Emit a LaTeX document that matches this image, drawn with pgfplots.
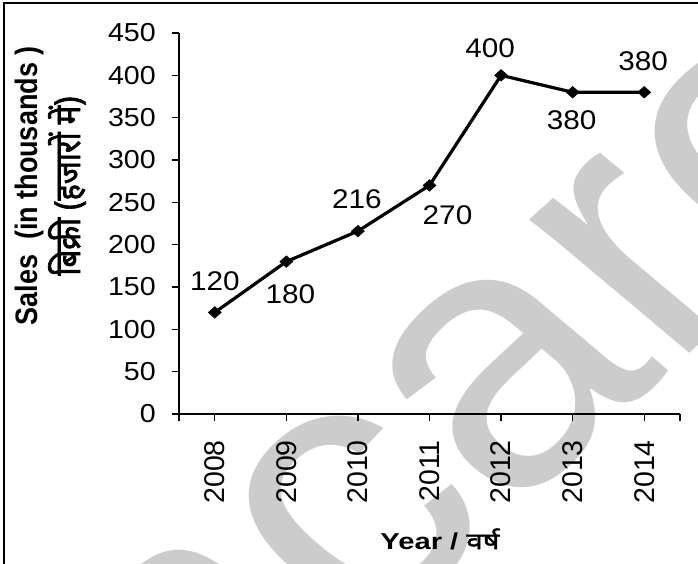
\documentclass[border=0pt]{standalone}
\usepackage{fontspec}
\setmainfont{Liberation Sans}
\newfontfamily\rfont{Liberation Sans}
\newfontfamily\hfont{Liberation Sans}[FakeStretch=1.1]
\newfontfamily\xfont{Liberation Sans}[FakeStretch=1.27]
\newfontfamily\hinB{Noto Sans}[Script=Devanagari,FakeBold=2]
\newfontfamily\hinBS{Noto Sans}[Script=Devanagari,FakeBold=2,FakeStretch=1.27]
\usepackage{graphicx}
\usepackage{pgfplots}
\usepackage{pgfplotstable}
\pgfplotsset{compat=1.18}

\pgfplotstableread{
x y dx dy
0 120 0 31
1 180 4 -33
2 216 -1 32
3 270 18 -30
4 400 -11 27
5 380 -1 -28
6 380 -1 31
}\sales

\begin{document}
\begin{tikzpicture}
% watermark
\begin{scope}
\clip (-179pt,-150pt) rectangle (519pt,414pt);
\begin{scope}[xscale=1.15]
\node[rotate=46, transform shape, inner sep=0pt, text=black!20,
  font=\rfont\fontsize{365}{365}\selectfont] at (336pt,88pt) {\llap{exam}care};
\end{scope}
\end{scope}
\begin{axis}[
  at={(0,0)}, anchor=south west,
  scale only axis, width=501pt, height=381pt,
  xmin=-0.5, xmax=6.5, ymin=0, ymax=450,
  clip=false,
  axis x line*=bottom, axis y line*=left,
  axis line style={line width=1.4pt, -},
  x axis line style={shorten <=-7pt},
  xtick={0,...,6},
  xticklabels={2008,2009,2010,2011,2012,2013,2014},
  extra x ticks={-0.5,6.5}, extra x tick labels={},
  ytick={0,50,...,450},
  tick align=outside, xtick pos=left, ytick pos=left,
  major tick length=7pt,
  tick style={line width=1.4pt, black},
  /pgf/number format/assume math mode=true,
  yticklabel style={font=\hfont\fontsize{26}{26}\selectfont, inner sep=0pt, xshift=-16pt},
  xticklabel style={rotate=90, anchor=east, inner sep=0pt, font=\rfont\fontsize{28.5}{28.5}\selectfont},
  xticklabel shift=19pt,
  every axis y label/.style={at={([xshift=-127pt,yshift=228pt]rel axis cs:0,0)}, rotate=90, anchor=center, inner sep=0pt, font=\rfont\fontsize{27}{30}\selectfont},
  every axis x label/.style={at={([xshift=261pt,yshift=-125pt]rel axis cs:0,0)}, anchor=center, inner sep=0pt, font=\fontsize{23}{23}\selectfont},
  ylabel={\scalebox{1}[1.15]{\begin{tabular}{@{}c@{}}\bfseries Sales\ \ (in thousands )\\ {\hinB\fontsize{31}{31}\selectfont बिक्री (हजारों में)}\end{tabular}}},
  xlabel={\xfont\bfseries Year / \hinBS वर्ष},
]
\coordinate (BL) at ([xshift=-179pt,yshift=-150pt]rel axis cs:0,0);
\coordinate (TR) at ([xshift=519pt,yshift=414pt]rel axis cs:0,0);
\addplot[black, line width=3.2pt, mark=diamond*, mark size=5.8pt,
  mark options={xscale=1.5, line width=0.5pt, solid}] table[x=x,y=y]{\sales};
\addplot[draw=none, nodes near coords, point meta=explicit,
  visualization depends on={\thisrow{dx}\as\dx},
  visualization depends on={\thisrow{dy}\as\dy},
  every node near coord/.append style={anchor=center, inner sep=0pt,
    xshift=\dx, yshift=\dy, font=\hfont\fontsize{27}{27}\selectfont}]
  table[x=x, y=y, meta=y]{\sales};
\end{axis}
\draw[line width=1.5pt] ([xshift=4pt]BL) |- ([yshift=-3pt]TR);
\pgfresetboundingbox
\useasboundingbox (BL) rectangle (TR);
\end{tikzpicture}
\end{document}
